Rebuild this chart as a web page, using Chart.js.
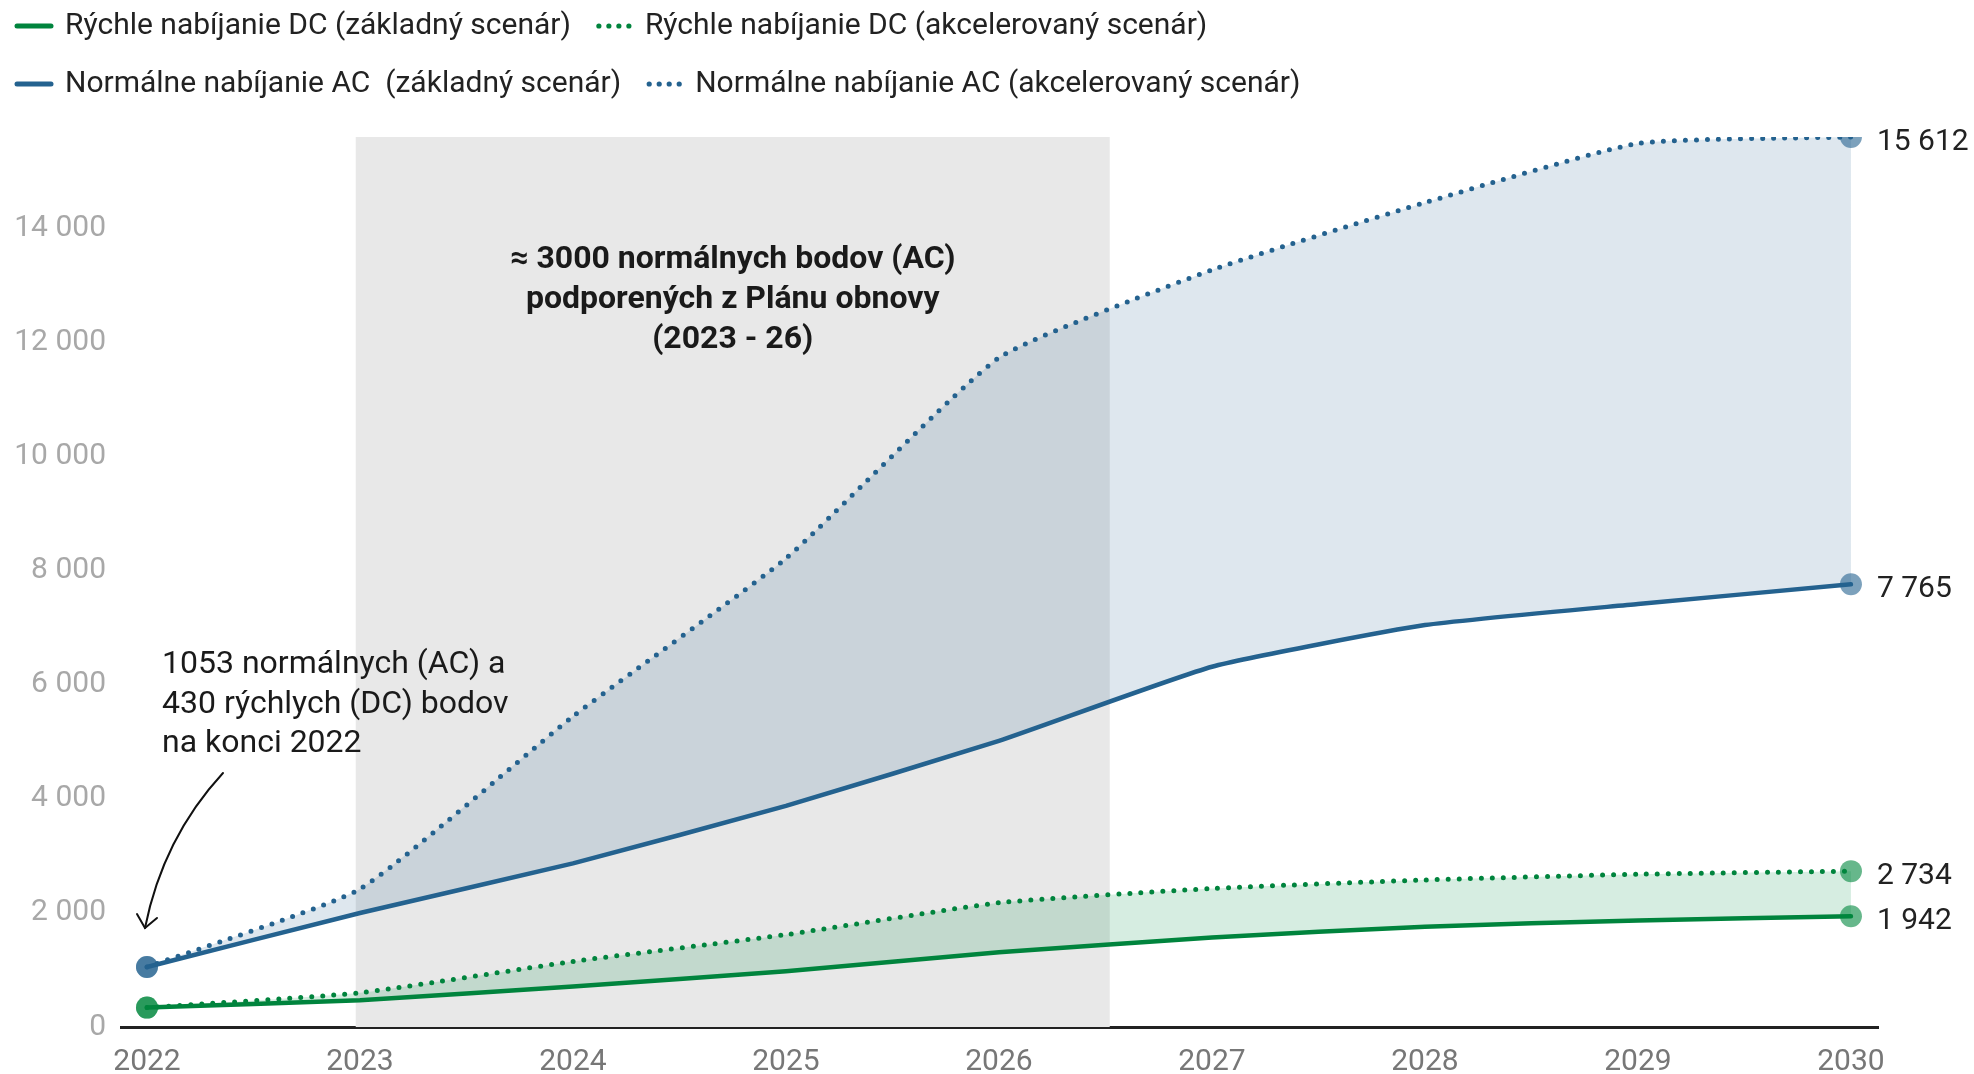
<!DOCTYPE html>
<html>
<head>
<meta charset="utf-8">
<script src="https://cdn.jsdelivr.net/npm/chart.js@4/dist/chart.umd.min.js"></script>
<style>
  html, body { margin: 0; padding: 0; background: #fff; }
  #wrap { width: 1974px; height: 1074px; position: relative; }
</style>
</head>
<body>
<div id="wrap"><canvas id="c"></canvas></div>
<script>
// ---- data ----
const years = [2022, 2023, 2024, 2025, 2026, 2027, 2028, 2029, 2030];
const dcBasic = [340, 470, 710, 980, 1310, 1570, 1760, 1870, 1942];
const dcAccel = [340, 600, 1150, 1620, 2180, 2430, 2580, 2680, 2734];
const acBasic = [1053, 2000, 2870, 3880, 5020, 6320, 7050, 7420, 7765];
const acAccel = [1053, 2420, 5450, 8220, 11740, 13280, 14460, 15500, 15612];
const seriesNames = [
  'Rýchle nabíjanie DC (základný scenár)',
  'Rýchle nabíjanie DC (akcelerovaný scenár)',
  'Normálne nabíjanie AC  (základný scenár)',
  'Normálne nabíjanie AC (akcelerovaný scenár)'
];
const yTicks = [0, 2000, 4000, 6000, 8000, 10000, 12000, 14000];
const bandRange = [2022.98, 2026.52];
const bandText = ['≈ 3000 normálnych bodov (AC)', 'podporených z Plánu obnovy', '(2023 - 26)'];
const noteText = ['1053 normálnych (AC) a', '430 rýchlych (DC) bodov', 'na konci 2022'];

// ---- styles ----
const GREEN = '#00843d';
const BLUE = '#24628f';
const GREEN_PT = 'rgba(0,135,62,0.6)';
const BLUE_PT = 'rgba(36,98,143,0.6)';
const FONT = 'Roboto, "Noto Sans", sans-serif';

const fmt = v => String(Math.round(v)).replace(/\B(?=(\d{3})+(?!\d))/g, ' ');
const pts = arr => years.map((y, i) => ({ x: y, y: arr[i] }));
const endRadius = arr => arr.map((_, i) => (i === 0 || i === arr.length - 1) ? 11 : 0);

function ds(label, arr, color, ptColor, dotted, fill, fillColor) {
  return {
    label, data: pts(arr),
    borderColor: color,
    borderWidth: dotted ? 5 : 4.5,
    borderDash: dotted ? [0, 11] : [],
    borderCapStyle: 'round',
    borderJoinStyle: 'round',
    tension: 0.15,
    pointRadius: endRadius(arr),
    pointBackgroundColor: ptColor,
    pointBorderWidth: 0,
    fill: fill,
    backgroundColor: fillColor || 'transparent',
    _dotted: dotted
  };
}

const datasets = [
  ds(seriesNames[0], dcBasic, GREEN, GREEN_PT, false, false),
  ds(seriesNames[1], dcAccel, GREEN, GREEN_PT, true, { target: 0 }, 'rgba(0,140,70,0.16)'),
  ds(seriesNames[2], acBasic, BLUE, BLUE_PT, false, false),
  ds(seriesNames[3], acAccel, BLUE, BLUE_PT, true, { target: 2 }, 'rgba(32,96,140,0.15)')
];

const bandPlugin = {
  id: 'band',
  beforeDatasetsDraw(chart) {
    const { ctx, chartArea, scales: { x, y } } = chart;
    const x0 = x.getPixelForValue(bandRange[0]);
    const x1 = x.getPixelForValue(bandRange[1]);
    const yt = chartArea.top;
    const yb = y.getPixelForValue(0);
    ctx.save();
    ctx.fillStyle = '#e8e8e8';
    ctx.fillRect(x0, yt, x1 - x0, yb - yt);
    ctx.restore();
  }
};

const annoPlugin = {
  id: 'anno',
  afterDatasetsDraw(chart) {
    const { ctx, scales: { x, y } } = chart;
    ctx.save();
    // band text
    const cx = (x.getPixelForValue(bandRange[0]) + x.getPixelForValue(bandRange[1])) / 2;
    ctx.fillStyle = '#1a1a1a';
    ctx.font = 'bold 32px ' + FONT;
    ctx.textAlign = 'center';
    ctx.textBaseline = 'middle';
    bandText.forEach((t, i) => ctx.fillText(t, cx, 260 + i * 40));
    // note text
    ctx.font = '32px ' + FONT;
    ctx.textAlign = 'left';
    noteText.forEach((t, i) => ctx.fillText(t, 162, 665 + i * 39.5));
    // arrow
    const tipX = x.getPixelForValue(years[0]) - 2;
    const tipY = 928;
    ctx.strokeStyle = '#111';
    ctx.lineWidth = 2;
    ctx.lineCap = 'round';
    ctx.beginPath();
    ctx.moveTo(223, 773);
    ctx.quadraticCurveTo(163, 838, tipX, tipY);
    ctx.stroke();
    ctx.beginPath();
    ctx.moveTo(tipX - 8, tipY - 14);
    ctx.lineTo(tipX, tipY);
    ctx.lineTo(tipX + 12, tipY - 10);
    ctx.stroke();
    // end labels
    ctx.font = '30px ' + FONT;
    ctx.fillStyle = '#222';
    ctx.textAlign = 'left';
    ctx.textBaseline = 'middle';
    chart.data.datasets.forEach((d, i) => {
      const meta = chart.getDatasetMeta(i);
      const last = meta.data[meta.data.length - 1];
      ctx.fillText(fmt(d.data[d.data.length - 1].y), last.x + 26, last.y + 5);
    });
    ctx.restore();
  }
};

const legendPlugin = {
  id: 'customLegend',
  afterDraw(chart) {
    const { ctx } = chart;
    ctx.save();
    ctx.font = '30px ' + FONT;
    ctx.textBaseline = 'middle';
    ctx.textAlign = 'left';
    const rows = [[0, 1], [2, 3]];
    const rowY = [26, 84];
    rows.forEach((row, r) => {
      let xp = 15;
      row.forEach(idx => {
        const d = chart.data.datasets[idx];
        const yy = rowY[r];
        ctx.strokeStyle = d.borderColor;
        ctx.fillStyle = d.borderColor;
        if (d._dotted) {
          for (let k = 0; k < 4; k++) {
            ctx.beginPath();
            ctx.arc(xp + 4 + k * 10, yy, 2.6, 0, Math.PI * 2);
            ctx.fill();
          }
        } else {
          ctx.lineWidth = 5;
          ctx.lineCap = 'round';
          ctx.beginPath();
          ctx.moveTo(xp + 2, yy);
          ctx.lineTo(xp + 36, yy);
          ctx.stroke();
        }
        ctx.fillStyle = '#222';
        const tx = xp + 50;
        ctx.fillText(d.label, tx, yy);
        xp = tx + ctx.measureText(d.label).width + 24;
      });
    });
    ctx.restore();
  }
};

new Chart(document.getElementById('c'), {
  type: 'line',
  data: { datasets },
  plugins: [bandPlugin, annoPlugin, legendPlugin],
  options: {
    responsive: true,
    maintainAspectRatio: false,
    animation: false,
    events: [],
    layout: { padding: { top: 137, right: 96, left: 0, bottom: 0 } },
    plugins: { legend: { display: false }, tooltip: { enabled: false } },
    elements: { point: { hitRadius: 0 } },
    scales: {
      x: {
        type: 'linear',
        min: 2021.878,
        max: 2030.127,
        afterBuildTicks: s => { s.ticks = years.map(v => ({ value: v })); },
        afterFit: s => { s.height = 47; },
        grid: { display: false, drawTicks: false },
        border: { display: true, color: '#222', width: 3 },
        ticks: {
          color: '#777',
          font: { family: FONT, size: 30 },
          padding: 17,
          maxRotation: 0,
          callback: v => String(v)
        }
      },
      y: {
        min: 0,
        max: 15612,
        afterBuildTicks: s => { s.ticks = yTicks.map(v => ({ value: v })); },
        afterFit: s => { s.width = 121; },
        grid: { display: false, drawTicks: false },
        border: { display: false },
        ticks: {
          color: '#a8a8a8',
          font: { family: FONT, size: 30 },
          padding: 15,
          callback: v => fmt(v)
        }
      }
    }
  }
});
</script>
</body>
</html>
